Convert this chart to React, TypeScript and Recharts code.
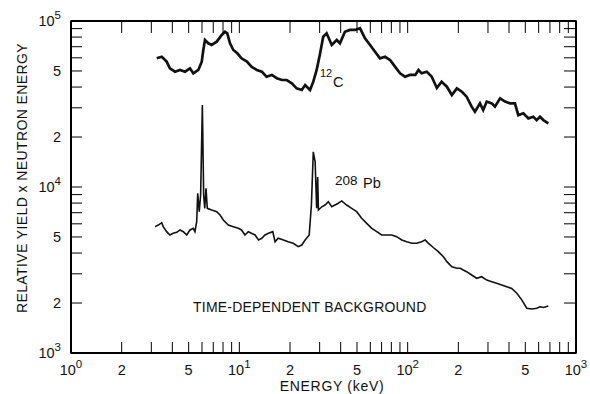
import React from "react";
import { LineChart, Line, XAxis, YAxis, ReferenceDot } from "recharts";

const FONT = '"Liberation Sans", Arial, sans-serif';
const INK = "#111";

// 12C spectrum: neutron energy (keV) vs relative yield x neutron energy
const carbonEnergy = [
  3.23, 3.46, 3.7, 3.87, 4.15, 4.44, 4.76, 5.09, 5.33, 5.71, 5.98, 6.11, 6.25, 6.54, 6.85, 7.34, 7.86, 8.22,
  8.48, 8.8, 9.21, 9.73, 10.3, 11.1, 11.8, 12.7, 13.6, 14.5, 15.6, 16.7, 17.9, 19.1, 20.5, 21.9, 23.5, 24.6,
  26.3, 27.5, 28.8, 30.2, 31.5, 33.0, 35.4, 37.9, 39.6, 42.4, 45.4, 48.7, 52.1, 55.8, 59.8, 64.0, 68.5, 73.4,
  78.6, 84.1, 90.1, 96.4, 103, 111, 116, 121, 130, 139, 149, 159, 171, 183, 196, 210, 224, 240, 251, 269, 281,
  295, 316, 330, 354, 379, 406, 434, 454, 487, 521, 558, 584, 611, 640, 685,
];
const carbonYield = [
  59600, 60900, 56900, 51900, 49500, 50700, 49500, 51900, 48400, 50700, 56900, 66900, 76800, 73400, 71700,
  75100, 82400, 86200, 84300, 73400, 66900, 63900, 59600, 56900, 53100, 50700, 49500, 46200, 47300, 45200,
  44100, 44100, 42100, 39300, 38400, 41100, 38400, 43100, 50700, 63900, 80400, 84300, 71700, 76800, 73400,
  86200, 88300, 88300, 90400, 78700, 71700, 65300, 59600, 60900, 58200, 53100, 48400, 46200, 47300, 47300,
  50700, 48400, 49500, 46200, 39500, 43100, 40200, 35800, 39300, 37500, 35000, 30500, 28400, 31900, 29100,
  32700, 31900, 30500, 34200, 32700, 31900, 31900, 27100, 27800, 25900, 26500, 25300, 26500, 25300, 24200,
];

// 208Pb spectrum
const leadEnergy = [
  3.16, 3.3, 3.46, 3.53, 3.7, 3.87, 4.05, 4.25, 4.44, 4.65, 4.87, 5.09, 5.33, 5.45, 5.58, 5.66, 5.78, 5.89,
  6.03, 6.14, 6.23, 6.34, 6.45, 6.85, 7.34, 7.68, 8.03, 8.6, 9.21, 9.86, 10.3, 10.8, 11.3, 11.8, 12.4, 13.0,
  13.6, 14.2, 14.9, 15.8, 16.3, 17.0, 18.3, 19.5, 20.9, 22.4, 23.5, 24.6, 26.0, 26.8, 27.5, 28.2, 28.8, 29.2,
  29.5, 30.9, 32.3, 33.8, 35.4, 37.0, 38.7, 40.6, 43.4, 46.5, 49.8, 53.3, 57.1, 61.2, 65.5, 70.1, 75.1, 80.4,
  86.1, 92.2, 98.7, 106, 113, 121, 127, 133, 142, 152, 163, 171, 183, 196, 205, 214, 224, 240, 257, 275, 295,
  316, 338, 362, 388, 415, 445, 476, 510, 546, 585, 611, 640, 685,
];
const leadYield = [
  5770, 5900, 6100, 5770, 5380, 5140, 5260, 5330, 5510, 5380, 5140, 5510, 5640, 5380, 6180, 9160, 7100, 8950,
  31200, 8950, 7440, 9820, 7440, 7270, 7100, 6780, 6330, 5900, 5770, 5640, 5510, 5140, 5380, 5260, 5140, 4800,
  4910, 5140, 5260, 5380, 4680, 4910, 4800, 4680, 4580, 4370, 4470, 4800, 5140, 7790, 16300, 14200, 7440,
  11500, 7270, 7600, 7790, 8160, 7600, 7790, 7980, 8240, 7790, 7440, 7100, 6480, 6040, 5640, 5380, 5140, 5140,
  5140, 5020, 4800, 4680, 4580, 4580, 4680, 4800, 4580, 4320, 4080, 3800, 3550, 3310, 3240, 3240, 3160, 3090,
  2950, 2820, 2880, 2750, 2690, 2630, 2570, 2510, 2450, 2290, 2090, 1860, 1840, 1860, 1900, 1880, 1920,
];

const xTicks = [1, 2, 3, 4, 5, 6, 7, 8, 9, 10, 20, 30, 40, 50, 60, 70, 80, 90, 100, 200, 300, 400, 500, 600, 700, 800, 900, 1000];
const xLabelValues = [1, 2, 5, 10, 20, 50, 100, 200, 500, 1000];
const xLabelText = ["10^0", "2", "5", "10^1", "2", "5", "10^2", "2", "5", "10^3"];

const yTicks = [
  1000, 2000, 3000, 4000, 5000, 6000, 7000, 8000, 9000, 10000, 20000, 30000, 40000, 50000, 60000, 70000, 80000,
  90000, 100000,
];
const yLabelValues = [1000, 2000, 5000, 10000, 20000, 50000, 100000];
const yLabelText = ["10^3", "2", "5", "10^4", "2", "5", "10^5"];

// plot box size (px), drawn from the top-left domain corner
const BOX_W = 505;
const BOX_H = 332;

const sup = (text: string) => {
  const [base, exp] = text.split("^");
  return (
    <>
      {base}
      {exp && (
        <tspan dy={-7} fontSize={11.5}>
          {exp}
        </tspan>
      )}
    </>
  );
};

const XTick = (props: any) => {
  const { x, y, payload } = props;
  const i = payload ? xLabelValues.indexOf(payload.value) : -1;
  if (i < 0) return <g />;
  return (
    <text x={x} y={y + 22} textAnchor="middle" fontSize={14.5} fontFamily={FONT} fill={INK}>
      {sup(xLabelText[i])}
    </text>
  );
};

const YTick = (props: any) => {
  const { x, y, payload } = props;
  const i = payload ? yLabelValues.indexOf(payload.value) : -1;
  if (i < 0) return <g />;
  return (
    <text x={x - 10} y={y + 5} textAnchor="end" fontSize={14.5} fontFamily={FONT} fill={INK}>
      {sup(yLabelText[i])}
    </text>
  );
};

const NoTick = () => <g />;

const XTitle = (props: any) => {
  const vb = props.viewBox;
  return (
    <text x={vb.x + 261} y={vb.y + 38} textAnchor="middle" fontSize={14} letterSpacing={0.7} fontFamily={FONT} fill={INK}>
      ENERGY (keV)
    </text>
  );
};

const YTitle = (props: any) => {
  const vb = props.viewBox;
  const cx = vb.x + 22;
  const cy = 178;
  return (
    <text
      x={cx}
      y={cy}
      transform={`rotate(-90 ${cx} ${cy})`}
      textAnchor="middle"
      dominantBaseline="central"
      fontSize={14}
      letterSpacing={0.4}
      fontFamily={FONT}
      fill={INK}
    >
      RELATIVE YIELD x NEUTRON ENERGY
    </text>
  );
};

const Box = (p: any) => (
  <g>
    <rect x={p.cx} y={p.cy} width={BOX_W} height={BOX_H} fill="none" stroke="#000" strokeWidth={1.6} />
    <line x1={p.cx + BOX_W} y1={p.cy} x2={p.cx + BOX_W} y2={p.cy + BOX_H} stroke="#000" strokeWidth={1.6} />
  </g>
);

const CarbonTag = (p: any) => (
  <g fontFamily={FONT} fill={INK}>
    <text x={p.cx + 1} y={p.cy - 10} fontSize={11}>12</text>
    <text x={p.cx + 14} y={p.cy} fontSize={14.5}>C</text>
  </g>
);

const LeadTag = (p: any) => (
  <g fontFamily={FONT} fill={INK}>
    <text x={p.cx} y={p.cy - 3} fontSize={13.5}>208</text>
    <text x={p.cx + 28} y={p.cy} fontSize={14.5}>Pb</text>
  </g>
);

const BackgroundTag = (p: any) => (
  <text x={p.cx} y={p.cy} fontSize={14} letterSpacing={0.2} fontFamily={FONT} fill={INK}>
    TIME-DEPENDENT BACKGROUND
  </text>
);

export default function App() {
  const carbon = carbonEnergy.map((e, i) => ({ e, v: carbonYield[i] }));
  const lead = leadEnergy.map((e, i) => ({ e, v: leadYield[i] }));

  return (
    <div style={{ position: "absolute", left: 0, top: 0, width: 590, height: 394, background: "#fff" }}>
      <LineChart width={590} height={394} margin={{ top: 20, right: 13, bottom: 0, left: 0 }}>
        <XAxis
          dataKey="e"
          type="number"
          scale="log"
          domain={[1, 1000]}
          allowDataOverflow
          ticks={xTicks}
          interval={0}
          height={41}
          stroke="#000"
          tickSize={-11}
          tickMargin={11}
          axisLine={{ stroke: "#000", strokeWidth: 2 }}
          tick={<XTick />}
          label={{ content: XTitle }}
        />
        <XAxis
          xAxisId="top"
          orientation="top"
          dataKey="e"
          type="number"
          scale="log"
          domain={[1, 1000]}
          allowDataOverflow
          ticks={xTicks}
          interval={0}
          height={1}
          stroke="#000"
          tickSize={-12}
          axisLine={{ stroke: "#000", strokeWidth: 2 }}
          tick={<NoTick />}
        />
        <YAxis
          type="number"
          scale="log"
          domain={[1000, 100000]}
          allowDataOverflow
          ticks={yTicks}
          interval={0}
          width={71}
          stroke="#000"
          tickSize={-11}
          tickMargin={11}
          axisLine={{ stroke: "#000", strokeWidth: 2 }}
          tick={<YTick />}
          label={{ content: YTitle }}
        />
        <YAxis
          yAxisId="right"
          orientation="right"
          type="number"
          scale="log"
          domain={[1000, 100000]}
          allowDataOverflow
          ticks={yTicks}
          interval={0}
          width={1}
          stroke="#000"
          tickSize={-12}
          axisLine={{ stroke: "#000", strokeWidth: 2 }}
          tick={<NoTick />}
        />
        <Line
          data={carbon}
          dataKey="v"
          type="linear"
          stroke={INK}
          strokeWidth={2.7}
          dot={false}
          isAnimationActive={false}
        />
        <Line
          data={lead}
          dataKey="v"
          type="linear"
          stroke={INK}
          strokeWidth={1.6}
          dot={false}
          isAnimationActive={false}
        />
        <ReferenceDot x={1} y={100000} r={0} ifOverflow="visible" shape={Box} />
        <ReferenceDot x={29.7} y={40000} r={0} ifOverflow="visible" shape={CarbonTag} />
        <ReferenceDot x={37.0} y={9860} r={0} ifOverflow="visible" shape={LeadTag} />
        <ReferenceDot x={5.31} y={1770} r={0} ifOverflow="visible" shape={BackgroundTag} />
      </LineChart>
    </div>
  );
}
